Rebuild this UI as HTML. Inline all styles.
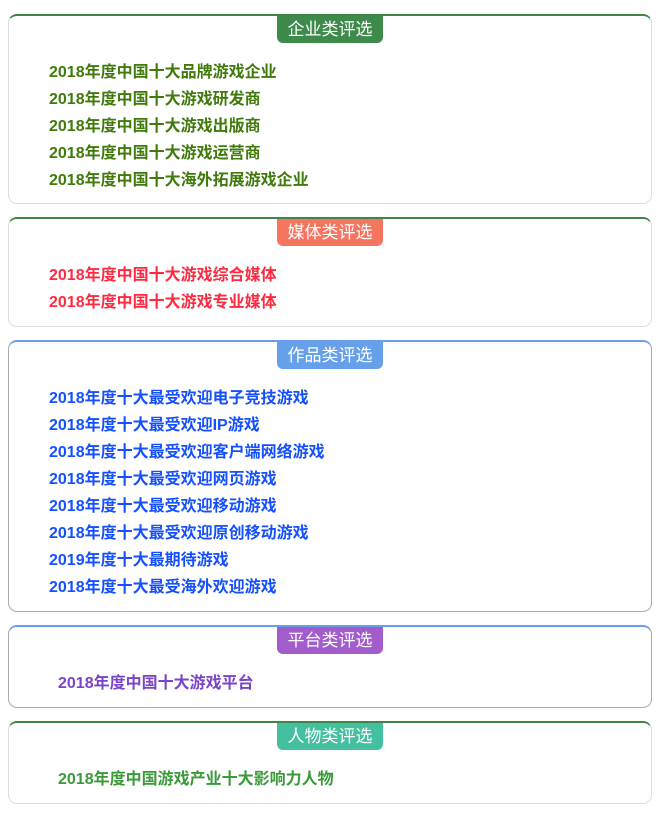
<!DOCTYPE html>
<html><head><meta charset="utf-8"><style>
body{margin:0;width:667px;height:817px;background:#fff;position:relative;font-family:"Liberation Sans","Noto Sans CJK SC",sans-serif;}
.box{position:absolute;left:8px;width:644px;border:1px solid #ddd;border-top:2px solid #3f8548;border-radius:9px;box-sizing:border-box;}
.lab{position:absolute;left:268px;top:0;width:106px;height:27px;border-radius:0 0 6px 6px;color:#fff;font-size:17px;line-height:27px;text-align:center;}
.it{position:absolute;left:40px;font-weight:bold;font-size:16px;white-space:nowrap;line-height:20px;}
</style></head><body>
<div class="box" style="top:14px;height:190px;">
<div class="lab" style="background:#3d8a4a">企业类评选</div>
<div class="it" style="top:47px;color:#3f7a0a">2018年度中国十大品牌游戏企业</div>
<div class="it" style="top:74px;color:#3f7a0a">2018年度中国十大游戏研发商</div>
<div class="it" style="top:101px;color:#3f7a0a">2018年度中国十大游戏出版商</div>
<div class="it" style="top:128px;color:#3f7a0a">2018年度中国十大游戏运营商</div>
<div class="it" style="top:155px;color:#3f7a0a">2018年度中国十大海外拓展游戏企业</div>
</div>
<div class="box" style="top:217px;height:110px;">
<div class="lab" style="background:#f57560">媒体类评选</div>
<div class="it" style="top:47px;color:#ff2a40">2018年度中国十大游戏综合媒体</div>
<div class="it" style="top:74px;color:#ff2a40">2018年度中国十大游戏专业媒体</div>
</div>
<div class="box" style="top:340px;height:272px;border-color:#aaa;border-top-color:#6a9ee8;">
<div class="lab" style="background:#67a0ea">作品类评选</div>
<div class="it" style="top:47px;color:#1450ff">2018年度十大最受欢迎电子竞技游戏</div>
<div class="it" style="top:74px;color:#1450ff">2018年度十大最受欢迎IP游戏</div>
<div class="it" style="top:101px;color:#1450ff">2018年度十大最受欢迎客户端网络游戏</div>
<div class="it" style="top:128px;color:#1450ff">2018年度十大最受欢迎网页游戏</div>
<div class="it" style="top:155px;color:#1450ff">2018年度十大最受欢迎移动游戏</div>
<div class="it" style="top:182px;color:#1450ff">2018年度十大最受欢迎原创移动游戏</div>
<div class="it" style="top:209px;color:#1450ff">2019年度十大最期待游戏</div>
<div class="it" style="top:236px;color:#1450ff">2018年度十大最受海外欢迎游戏</div>
</div>
<div class="box" style="top:625px;height:83px;border-color:#aaa;border-top-color:#6a9ee8;">
<div class="lab" style="background:#a25ccc">平台类评选</div>
<div class="it" style="left:49px;top:47px;color:#7a44c8">2018年度中国十大游戏平台</div>
</div>
<div class="box" style="top:721px;height:83px;">
<div class="lab" style="background:#44c0a0">人物类评选</div>
<div class="it" style="left:49px;top:47px;color:#3a9a3a">2018年度中国游戏产业十大影响力人物</div>
</div>
</body></html>
